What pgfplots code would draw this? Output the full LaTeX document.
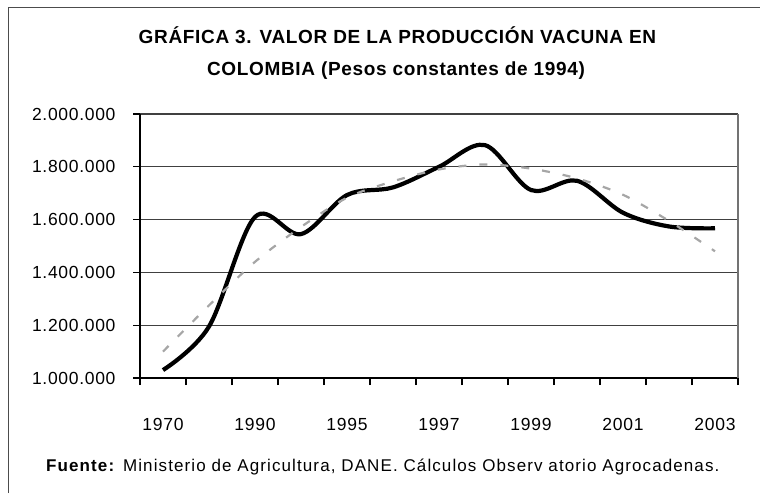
\documentclass[border=0pt]{standalone}
\usepackage{fontspec}
\setmainfont{Liberation Sans}[LetterSpace=4]
\newfontfamily\titlefont{Liberation Sans}[LetterSpace=3.5]
\newfontfamily\footfont{Liberation Sans}[LetterSpace=6.5]
\usepackage{pgfplots}
\pgfplotsset{compat=1.18}
\begin{document}
\begin{tikzpicture}
\useasboundingbox (0pt,0pt) rectangle (760pt,493pt);
\draw[black!70, line width=1.2pt] (8.5pt,0pt) -- (8.5pt,485.5pt) -- (760pt,485.5pt);
\node[font=\titlefont\bfseries\fontsize{19}{20}\selectfont] at (397.5pt,457.5pt) {GRÁFICA 3. VALOR DE LA PRODUCCIÓN VACUNA EN};
\node[font=\titlefont\bfseries\fontsize{19}{20}\selectfont] at (396pt,422.5pt) {COLOMBIA (Pesos constantes de 1994)};
\node[anchor=base west, inner sep=0pt, font=\footfont\fontsize{17}{20}\selectfont] at (46pt,21.5pt) {\textbf{Fuente:} Ministerio de Agricultura, DANE. Cálculos Observ atorio Agrocadenas.};
\begin{axis}[
  at={(140pt,115pt)}, anchor=south west,
  scale only axis, width=598pt, height=264pt,
  xmin=-0.5, xmax=12.5, ymin=1000000, ymax=2000000,
  axis lines=left, axis line style={-, line width=1.2pt, black},
  tick align=outside,
  xtick={-0.5,0.5,...,12.5}, xticklabels={},
  extra x ticks={0,2,4,6,8,10,12},
  extra x tick labels={1970,1990,1995,1997,1999,2001,2003},
  extra x tick style={major tick length=0pt, grid=none},
  xticklabel style={yshift=-37pt},
  ytick={1000000,1200000,1400000,1600000,1800000,2000000},
  yticklabels={1.000.000,1.200.000,1.400.000,1.600.000,1.800.000,2.000.000},
  yticklabel style={xshift=-14pt},
  scaled y ticks=false,
  ymajorgrids, grid style={black!75, line width=1.3pt},
  major tick length=7pt, tick style={black, line width=1.2pt},
  tick label style={font=\fontsize{17.5}{20}\selectfont},
  clip=false
]
\draw[black!55, line width=1.2pt] (rel axis cs:1,0) -- (rel axis cs:1,1);
\addplot[black, line width=4.2pt, smooth, tension=0.55] coordinates {
(0,1030000) (1,1195000) (2,1610000) (3,1545000) (4,1693000) (5,1722000) (6,1800000)
(7,1882000) (8,1712000) (9,1747000) (10,1626000) (11,1574000) (12,1567000)};
\addplot[gray!70, line width=2.2pt, dash pattern=on 8pt off 13pt, smooth] coordinates {
(0,1100000) (1,1275000) (2,1440000) (3,1572000) (4,1683000) (5,1745000) (6,1790000)
(7,1809000) (8,1793000) (9,1756000) (10,1694000) (11,1595000) (12,1480000)};
\end{axis}
\end{tikzpicture}
\end{document}
